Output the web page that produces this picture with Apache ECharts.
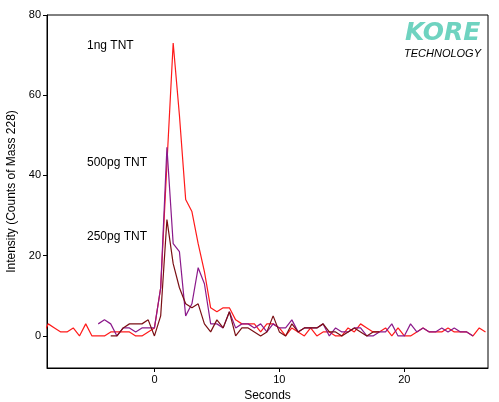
<!DOCTYPE html><html><head><meta charset="utf-8"><script src="https://cdn.jsdelivr.net/npm/echarts@6/dist/echarts.min.js"></script>
<style>body{margin:0}#c{width:499px;height:402px}</style></head><body><div id="c"></div><script>
const redStart=-9, purpleStart=-4.5, darkStart=-3.5, step=0.5;
const red1ng=[0,3,2,1,1,2,0,3,0,0,0,1,1,1,1,0,0,1,2,12,43,73,55,34,31,23,16,7,6,7,7,4,3,3,3,1,3,3,2,0,2,1,0,2,0,1,1,0,0,2,1,3,2,1,1,2,0,2,0,0,1,2,1,1,1,2,1,1,1,0,2,1];
const purple500=[3,4,3,0,2,2,1,2,2,2,12,47,23,21,5,8,17,13,3,3,2,6,2,3,3,2,3,1,3,2,2,4,1,2,2,2,3,0,2,1,1,2,2,0,0,1,1,3,0,0,3,1,2,1,1,2,1,2,1,1,0];
const dark250=[0,0,2,3,3,3,4,0,5,29,18,12,8,7,8,3,1,4,2,6,0,2,2,1,0,1,5,1,0,3,1,2,2,2,3,1,1,0,1,2,1,0,1,1];
const xTicks=[0,10,20], yTicks=[0,20,40,60,80];
const mk=(arr,s)=>arr.map((v,i)=>[s+i*step,v]);
const ch=echarts.init(document.getElementById('c'));
ch.setOption({animation:false,
grid:{left:47,right:11,top:15,bottom:34,outerBoundsMode:'none',containLabel:false,show:true,borderColor:'#000',borderWidth:1,backgroundColor:'transparent'},
xAxis:{type:'value',min:-8.6,max:26.7,name:'Seconds',nameLocation:'middle',nameGap:20,nameTextStyle:{fontFamily:'Liberation Sans',fontSize:12,color:'#000'},
 axisLine:{onZero:false,lineStyle:{color:'#000'}},axisTick:{customValues:xTicks,length:4,lineStyle:{color:'#000'}},axisLabel:{customValues:xTicks,fontFamily:'Liberation Sans',fontSize:11,color:'#000',margin:6},splitLine:{show:false}},
yAxis:{type:'value',min:-8,max:80,name:'Intensity (Counts of Mass 228)',nameLocation:'middle',nameGap:29,nameTextStyle:{fontFamily:'Liberation Sans',fontSize:12,color:'#000'},
 axisLine:{show:true,onZero:false,lineStyle:{color:'#000'}},axisTick:{show:true,customValues:yTicks,length:4,lineStyle:{color:'#000'}},axisLabel:{customValues:yTicks,fontFamily:'Liberation Sans',fontSize:11,color:'#000',margin:6},splitLine:{show:false}},
series:[
{type:'line',data:mk(red1ng,redStart),symbol:'none',clip:true,lineStyle:{color:'#ff1a1a',width:1.2}},
{type:'line',data:mk(purple500,purpleStart),symbol:'none',lineStyle:{color:'#8b1a8b',width:1.2}},
{type:'line',data:mk(dark250,darkStart),symbol:'none',lineStyle:{color:'#7a0f14',width:1.2}}],
graphic:[
{type:'text',left:87,top:40,style:{text:'1ng TNT',font:'12px Liberation Sans',fill:'#000'}},
{type:'text',left:87,top:157,style:{text:'500pg TNT',font:'12px Liberation Sans',fill:'#000'}},
{type:'text',left:87,top:231,style:{text:'250pg TNT',font:'12px Liberation Sans',fill:'#000'}},
{type:'text',left:405,top:21,style:{text:'KORE',font:'italic bold 25px DejaVu Sans',fill:'#6fd3c0'}},
{type:'text',left:404,top:48,style:{text:'TECHNOLOGY',font:'italic 11px Liberation Sans',fill:'#000'}}
]});
</script></body></html>
